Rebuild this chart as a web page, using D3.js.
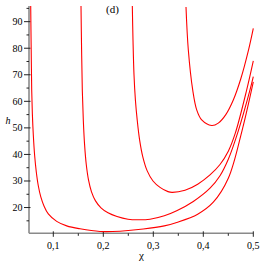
<!DOCTYPE html>
<html>
<head>
<meta charset="utf-8">
<script src="https://cdn.jsdelivr.net/npm/d3@7"></script>
<style>
  body { margin: 0; background: #fff; }
  svg text { font-family: "Liberation Serif", "Times New Roman", "DejaVu Serif", serif !important; }
</style>
</head>
<body>
<div id="chart"></div>
<script>
// curves: chi values and h values
const chiA = [0.0548, 0.0558, 0.0568, 0.0582, 0.060, 0.0626, 0.066, 0.070, 0.075, 0.0814, 0.090, 0.1068, 0.1268, 0.1534, 0.1934, 0.2334, 0.280, 0.322, 0.3468, 0.3888, 0.42, 0.45, 0.4774, 0.5];
const hA   = [95.9, 79.3, 64.3, 54.9, 47.4, 39.8, 33.4, 28.2, 24.0, 20.6, 17.6, 14.8, 13.1, 12.0, 11.0, 11.1, 11.9, 13.1, 14.4, 17.5, 22.0, 31.0, 48.9, 67.3];
const chiB = [0.1554, 0.1566, 0.158, 0.160, 0.1626, 0.166, 0.1704, 0.1764, 0.1844, 0.1954, 0.2094, 0.2274, 0.2494, 0.2694, 0.2934, 0.322, 0.3468, 0.38, 0.4134, 0.4334, 0.45, 0.47, 0.4934, 0.5];
const hB   = [95.9, 79.3, 64.3, 53.0, 43.6, 36.1, 30.4, 25.9, 22.5, 19.9, 18.0, 16.6, 15.6, 15.4, 15.6, 16.9, 18.8, 22.3, 27.3, 32.0, 38.2, 48.9, 64.3, 69.3];
const chiC = [0.258, 0.2594, 0.2614, 0.2642, 0.2678, 0.2726, 0.279, 0.2878, 0.2994, 0.3134, 0.3294, 0.3374, 0.3634, 0.3888, 0.4134, 0.4334, 0.45, 0.464, 0.4868, 0.5];
const hC   = [96.3, 83.1, 70.0, 60.5, 53.0, 45.5, 39.1, 33.8, 30.0, 27.6, 26.0, 25.7, 26.5, 28.8, 32.3, 36.2, 41.2, 48.0, 64.3, 75.2];
const chiD = [0.3654, 0.37, 0.3788, 0.3868, 0.3968, 0.4168, 0.43, 0.445, 0.46, 0.475, 0.49, 0.5];
const hD   = [95.5, 79.4, 64.3, 56.8, 53.0, 50.9, 51.8, 55.0, 60.5, 68.5, 79.0, 87.5];

const xTicks = [0.1, 0.2, 0.3, 0.4, 0.5];
const xMinor = [0.15, 0.25, 0.35, 0.45];
const yTicks = [20, 30, 40, 50, 60, 70, 80, 90];
const yMinor = [15, 25, 35, 45, 55, 65, 75, 85, 95];

const width = 262, height = 262;
const svg = d3.select("#chart").append("svg")
    .attr("width", width)
    .attr("height", height);

let x = d3.scaleLinear().domain([0.0514, 0.5]).range([29, 253.3]);
let y = d3.scaleLinear().domain([10.3, 95.9]).range([233.3, 6]);

svg.append("clipPath").attr("id", "clip")
  .append("rect")
    .attr("x", x.range()[0]).attr("y", y.range()[1])
    .attr("width", x.range()[1] - x.range()[0] + 2)
    .attr("height", y.range()[0] - y.range()[1]);

let fmt = d => String(d).replace(".", ",");

// axis lines
svg.append("line")
    .attr("x1", x.range()[0]).attr("x2", x.range()[1])
    .attr("y1", y.range()[0]).attr("y2", y.range()[0])
    .attr("stroke", "#8a8a8a").attr("stroke-width", 1.6);
svg.append("line")
    .attr("x1", x.range()[0]).attr("x2", x.range()[0])
    .attr("y1", y.range()[0]).attr("y2", y.range()[1])
    .attr("stroke", "#8a8a8a").attr("stroke-width", 1.6);

// x ticks
svg.selectAll(".xt").data(xTicks).enter().append("line")
    .attr("x1", d => x(d)).attr("x2", d => x(d))
    .attr("y1", y.range()[0] - 2).attr("y2", y.range()[0] + 3.5)
    .attr("stroke", "#222").attr("stroke-width", 1);
svg.selectAll(".xm").data(xMinor).enter().append("line")
    .attr("x1", d => x(d)).attr("x2", d => x(d))
    .attr("y1", y.range()[0]).attr("y2", y.range()[0] + 2.5)
    .attr("stroke", "#222").attr("stroke-width", 1);
svg.selectAll(".xl").data(xTicks).enter().append("text")
    .attr("x", d => x(d)).attr("y", 248.5)
    .attr("text-anchor", "middle")
    .attr("font-size", 10)
    .text(fmt);

// y ticks
svg.selectAll(".yt").data(yTicks).enter().append("line")
    .attr("x1", x.range()[0] - 5).attr("x2", x.range()[0] + 1.5)
    .attr("y1", d => y(d)).attr("y2", d => y(d))
    .attr("stroke", "#222").attr("stroke-width", 1);
svg.selectAll(".ym").data(yMinor).enter().append("line")
    .attr("x1", x.range()[0] - 2.5).attr("x2", x.range()[0])
    .attr("y1", d => y(d)).attr("y2", d => y(d))
    .attr("stroke", "#222").attr("stroke-width", 1);
svg.selectAll(".yl").data(yTicks).enter().append("text")
    .attr("x", 22.5).attr("y", d => y(d) + 3.5)
    .attr("text-anchor", "end")
    .attr("font-size", 10)
    .text(d => d);

// axis titles
svg.append("text").attr("x", 8).attr("y", 124)
    .attr("text-anchor", "middle").attr("font-size", 10)
    .attr("font-style", "italic").text("h");
svg.append("text").attr("x", 141.5).attr("y", 258.5)
    .attr("text-anchor", "middle").attr("font-size", 11)
    .text("χ");
svg.append("text").attr("x", 112.5).attr("y", 12.5)
    .attr("text-anchor", "middle").attr("font-size", 11)
    .text("(d)");

// curves
let line = d3.line()
    .x(d => x(d[0]))
    .y(d => y(d[1]))
    .curve(d3.curveCatmullRom.alpha(0.5));

let curves = [[chiA, hA], [chiB, hB], [chiC, hC], [chiD, hD]];
svg.append("g").attr("clip-path", "url(#clip)")
  .selectAll("path").data(curves).enter().append("path")
    .attr("d", c => line(d3.zip(c[0], c[1])))
    .attr("fill", "none")
    .attr("stroke", "#ff0000")
    .attr("stroke-width", 1.1);
</script>
</body>
</html>
